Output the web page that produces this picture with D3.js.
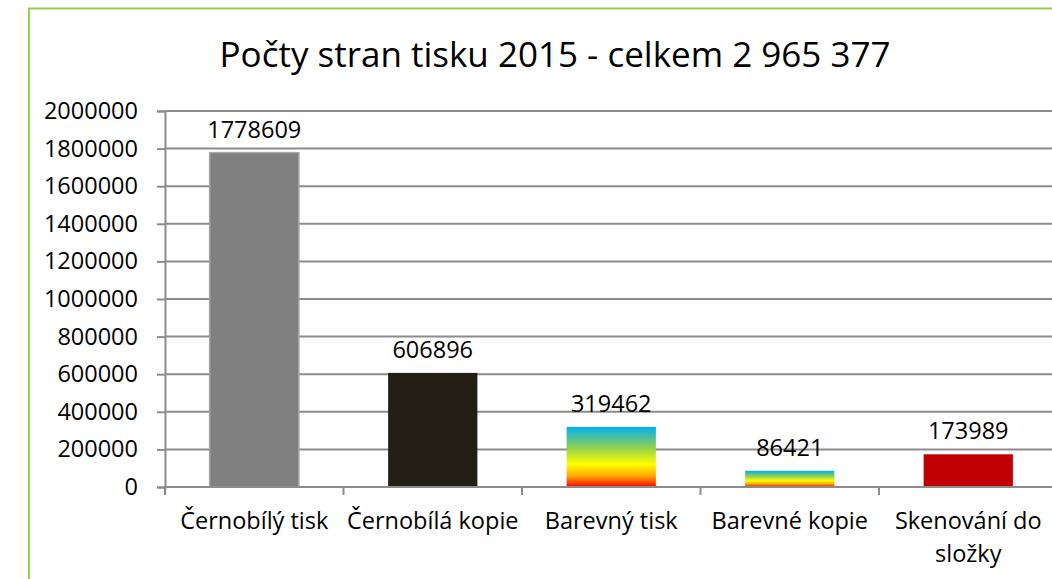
<!DOCTYPE html>
<html>
<head>
<meta charset="utf-8">
<script src="https://cdn.jsdelivr.net/npm/d3@7"></script>
<style>
  html, body { margin: 0; padding: 0; background: #fff; overflow: hidden; }
  svg { display: block; font-family: "Open Sans", "Noto Sans", sans-serif; }
</style>
</head>
<body>
<svg id="chart"></svg>
<script>
// DATA
var title = "Počty stran tisku 2015 - celkem 2 965 377";
var categories = ["Černobílý tisk", "Černobílá kopie", "Barevný tisk", "Barevné kopie", "Skenování do složky"];
var values = [1778609, 606896, 319462, 86421, 173989];
var fills = ["#808080", "#231f14", "url(#rainbow)", "url(#rainbow)", "#c00000"];
var yTicks = [0, 200000, 400000, 600000, 800000, 1000000, 1200000, 1400000, 1600000, 1800000, 2000000];

var width = 1052, height = 579;
var labelSize = "23.5px";
var svg = d3.select("#chart").attr("width", width).attr("height", height);

// gradient for colour prints
var grad = svg.append("defs").append("linearGradient")
  .attr("id", "rainbow")
  .attr("x1", 0).attr("y1", 0).attr("x2", 0).attr("y2", 1);
[["0%", "#00b0f0"], ["35%", "#92d050"], ["62%", "#ffff00"], ["82%", "#ffa500"], ["100%", "#ff0000"]]
  .forEach(function(s) { grad.append("stop").attr("offset", s[0]).attr("stop-color", s[1]); });

// chart frame (green border, cropped on right and bottom)
svg.append("path")
  .attr("d", "M29," + height + "V8.5H" + width)
  .attr("fill", "none")
  .attr("stroke", "#92d050")
  .attr("stroke-width", 2);

// SCALES
var x = d3.scaleBand()
  .domain(categories)
  .range([165, 1057.5])
  .paddingInner(0.5)
  .paddingOuter(0.25);

var y = d3.scaleLinear()
  .domain([0, 2000000])
  .range([487, 111]);

var gridColor = "#8c8c8c";

// gridlines + y labels
var yAxis = svg.append("g")
  .attr("transform", "translate(165,0)")
  .call(d3.axisLeft(y).tickValues(yTicks).tickSize(8).tickPadding(19).tickFormat(d3.format("d")));
yAxis.select(".domain").attr("stroke", gridColor).attr("stroke-width", 2);
yAxis.selectAll(".tick line").attr("stroke", gridColor).attr("stroke-width", 2);
yAxis.selectAll(".tick text")
  .attr("fill", "#000")
  .style("font-size", labelSize)
  .style("font-family", "\"Open Sans\", sans-serif");

svg.append("g")
  .selectAll("line")
  .data(yTicks.filter(function(d) { return d > 0; }))
  .enter().append("line")
  .attr("x1", 165).attr("x2", width)
  .attr("y1", function(d) { return y(d); })
  .attr("y2", function(d) { return y(d); })
  .attr("stroke", gridColor)
  .attr("stroke-width", 2);

// bars
svg.append("g")
  .selectAll("rect")
  .data(values)
  .enter().append("rect")
  .attr("x", function(d, i) { return x(categories[i]); })
  .attr("width", x.bandwidth())
  .attr("y", function(d) { return y(d); })
  .attr("height", function(d) { return y(0) - y(d); })
  .attr("fill", function(d, i) { return fills[i]; })
  .attr("stroke", function(d, i) { return i === 0 ? "#a6a6a6" : "none"; })
  .attr("stroke-width", 1.5);

// x axis line + ticks
var step = x.step();
var xTickPos = d3.range(categories.length + 1).map(function(i) { return 165 + i * step; });
svg.append("line")
  .attr("x1", 165).attr("x2", width)
  .attr("y1", y(0)).attr("y2", y(0))
  .attr("stroke", gridColor).attr("stroke-width", 2);
svg.append("g")
  .selectAll("line")
  .data(xTickPos)
  .enter().append("line")
  .attr("x1", function(d) { return d; }).attr("x2", function(d) { return d; })
  .attr("y1", y(0)).attr("y2", y(0) + 8)
  .attr("stroke", gridColor).attr("stroke-width", 2);

// value labels
svg.append("g")
  .selectAll("text")
  .data(values)
  .enter().append("text")
  .attr("x", function(d, i) { return x(categories[i]) + x.bandwidth() / 2; })
  .attr("y", function(d) { return y(d) - 15; })
  .attr("text-anchor", "middle")
  .style("font-size", labelSize)
  .text(function(d) { return d; });

// category labels (wrapped when wider than a band)
var catLabels = svg.append("g")
  .selectAll("text")
  .data(categories)
  .enter().append("text")
  .attr("x", function(d) { return x(d) + x.bandwidth() / 2; })
  .attr("y", 529)
  .attr("text-anchor", "middle")
  .style("font-size", labelSize);

catLabels.each(function(d) {
  var el = d3.select(this);
  var words = d.split(" ");
  var line = [];
  var tspan = el.append("tspan").attr("x", el.attr("x"));
  words.forEach(function(w) {
    line.push(w);
    tspan.text(line.join(" "));
    if (tspan.node().getComputedTextLength() > step && line.length > 1) {
      line.pop();
      tspan.text(line.join(" "));
      line = [w];
      tspan = el.append("tspan").attr("x", el.attr("x")).attr("dy", 33).text(w);
    }
  });
});

// title
svg.append("text")
  .attr("x", 555)
  .attr("y", 67)
  .attr("text-anchor", "middle")
  .style("font-size", "35px")
  .text(title);
</script>
</body>
</html>
